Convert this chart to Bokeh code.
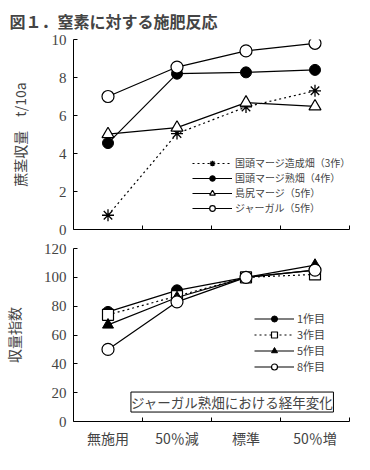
from bokeh.plotting import figure
from bokeh.models import FixedTicker, Legend, LegendItem, Label, Range1d
from bokeh.layouts import column
from bokeh.embed import file_html
from bokeh.resources import INLINE

# ---------------- data ----------------
levels = ["無施用", "50％減", "標準", "50％増"]
xpos = [0, 1, 2, 3]

top_yticks = [0, 2, 4, 6, 8, 10]
bottom_yticks = [0, 20, 40, 60, 80, 100, 120]

# top panel: 蔗茎収量 (t/10a)
kunigami_zosei = [0.75, 5.05, 6.45, 7.3]   # 国頭マージ造成畑（3作）
kunigami_juku = [4.55, 8.2, 8.27, 8.4]     # 国頭マージ熟畑（4作）
shimajiri = [5.02, 5.36, 6.68, 6.48]        # 島尻マージ（5作）
jahgaru = [7.0, 8.55, 9.4, 9.8]             # ジャーガル（5作）

top_labels = ["国頭マージ造成畑（3作）", "国頭マージ熟畑（4作）", "島尻マージ（5作）", "ジャーガル（5作）"]

# bottom panel: 収量指数
crop1 = [76, 91, 100, 105]
crop3 = [74, 87, 100, 102]
crop5 = [67, 86, 100, 108.5]
crop8 = [50, 83, 100, 105]

bottom_labels = ["1作目", "3作目", "5作目", "8作目"]

JP = "Noto Sans CJK JP"
SERIF = "Liberation Serif"


def make_fig(height, ymax, yticks, min_top, min_bottom, ylabel, ylabel_standoff, xticks):
    p = figure(width=354, height=height,
               x_range=Range1d(-0.5, 3.5), y_range=Range1d(0, ymax),
               output_backend="svg", toolbar_location=None,
               min_border_left=62, min_border_right=5,
               min_border_top=min_top, min_border_bottom=min_bottom)
    p.outline_line_color = None
    p.grid.visible = False
    p.background_fill_color = "white"

    ya = p.yaxis[0]
    ya.ticker = FixedTicker(ticks=yticks)
    ya.major_tick_in = 4
    ya.major_tick_out = 0
    ya.minor_tick_in = 0
    ya.minor_tick_out = 0
    ya.major_label_text_font = SERIF
    ya.major_label_text_font_size = "15px"
    ya.major_label_standoff = 7
    ya.axis_label = ylabel
    ya.axis_label_text_font = JP
    ya.axis_label_text_font_size = "14px"
    ya.axis_label_text_font_style = "normal"
    ya.axis_label_standoff = ylabel_standoff
    ya.axis_line_color = "black"

    xa = p.xaxis[0]
    xa.ticker = FixedTicker(ticks=xticks, minor_ticks=[0.5, 1.5, 2.5, 3.5])
    xa.major_tick_in = 0
    xa.major_tick_out = 0
    xa.minor_tick_in = 4
    xa.minor_tick_out = 0
    xa.axis_line_color = "black"
    return p


# ---------------- top figure ----------------
p1 = make_fig(237, 10, top_yticks, 38, 8, "蔗茎収量　t/10a", 19, [])
p1.title.text = "図１．窒素に対する施肥反応"
p1.title.text_font = JP
p1.title.text_font_size = "16px"
p1.title.text_font_style = "bold"
p1.title.align = "left"
p1.title.offset = -64
p1.title.standoff = 13

p1.xaxis[0].major_label_standoff = 0

lw = 1.2
r1l = p1.line(xpos, kunigami_zosei, line_color="black", line_width=lw, line_dash="2 3")
r1m = p1.scatter(xpos, kunigami_zosei, marker="asterisk", size=12, line_color="black", line_width=1.3)
r2l = p1.line(xpos, kunigami_juku, line_color="black", line_width=lw)
r2m = p1.scatter(xpos, kunigami_juku, marker="circle", size=11, fill_color="black", line_color="black")
r3l = p1.line(xpos, shimajiri, line_color="black", line_width=lw)
r3m = p1.scatter(xpos, shimajiri, marker="triangle", size=12, fill_color="white", line_color="black", line_width=1.2)
r4l = p1.line(xpos, jahgaru, line_color="black", line_width=lw)
r4m = p1.scatter(xpos, jahgaru, marker="circle", size=12, fill_color="white", line_color="black", line_width=1.2)

leg1 = Legend(items=[LegendItem(label=top_labels[0], renderers=[r1l, r1m]),
                     LegendItem(label=top_labels[1], renderers=[r2l, r2m]),
                     LegendItem(label=top_labels[2], renderers=[r3l, r3m]),
                     LegendItem(label=top_labels[3], renderers=[r4l, r4m])],
              location=(119, 14), padding=0, margin=0, spacing=0,
              glyph_width=40, glyph_height=14, label_height=14, label_standoff=3,
              border_line_color=None, background_fill_alpha=0,
              label_text_font=JP, label_text_font_size="10px")
p1.add_layout(leg1)

# ---------------- bottom figure ----------------
p2 = make_fig(227, 120, bottom_yticks, 11, 43, "収量指数", 17, xpos)
p2.xaxis[0].major_label_overrides = dict(zip(xpos, levels))
p2.xaxis[0].major_label_text_font = JP
p2.xaxis[0].major_label_text_font_size = "14px"
p2.xaxis[0].major_label_standoff = 6

s1l = p2.line(xpos, crop1, line_color="black", line_width=lw)
s1m = p2.scatter(xpos, crop1, marker="circle", size=11, fill_color="black", line_color="black")
s3l = p2.line(xpos, crop3, line_color="black", line_width=lw, line_dash="2 3")
s3m = p2.scatter(xpos, crop3, marker="square", size=11, fill_color="white", line_color="black", line_width=1.2)
s5l = p2.line(xpos, crop5, line_color="black", line_width=lw)
s5m = p2.scatter(xpos, crop5, marker="triangle", size=11, fill_color="black", line_color="black")
s8l = p2.line(xpos, crop8, line_color="black", line_width=lw)
s8m = p2.scatter(xpos, crop8, marker="circle", size=12, fill_color="white", line_color="black", line_width=1.2)

leg2 = Legend(items=[LegendItem(label=bottom_labels[0], renderers=[s1l, s1m]),
                     LegendItem(label=bottom_labels[1], renderers=[s3l, s3m]),
                     LegendItem(label=bottom_labels[2], renderers=[s5l, s5m]),
                     LegendItem(label=bottom_labels[3], renderers=[s8l, s8m])],
              location=(181, 47), padding=0, margin=0, spacing=0,
              glyph_width=40, glyph_height=15, label_height=15, label_standoff=3,
              border_line_color=None, background_fill_alpha=0,
              label_text_font=JP, label_text_font_size="11px")
p2.add_layout(leg2)

box = Label(x=1.8, y=13.5, text="ジャーガル熟畑における経年変化",
            text_font=JP, text_font_size="13.5px", text_align="center", text_baseline="middle",
            border_line_color="black", border_line_width=1, background_fill_color="white",
            padding=0)
p2.add_layout(box)

xlab = Label(x=117, y=-32, x_units="screen", y_units="screen", text="窒素施肥レベル",
             text_font=JP, text_font_size="13.5px", text_align="center", text_baseline="middle")
p2.add_layout(xlab)

layout = column(p1, p2, spacing=0)

open("out.html", "w").write(file_html(layout, INLINE))
